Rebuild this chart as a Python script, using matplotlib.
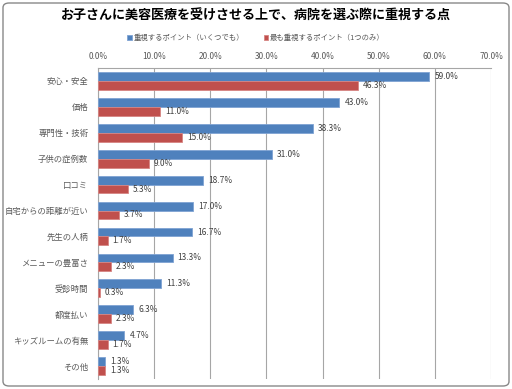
import matplotlib
matplotlib.use("Agg")
import matplotlib.pyplot as plt
import numpy as np
from matplotlib.patches import FancyBboxPatch

plt.rcParams['font.family'] = ['Noto Sans CJK JP', 'DejaVu Sans']

title = "お子さんに美容医療を受けさせる上で、病院を選ぶ際に重視する点"
categories = ["安心・安全", "価格", "専門性・技術", "子供の症例数", "口コミ",
              "自宅からの距離が近い", "先生の人柄", "メニューの豊富さ", "受診時間",
              "都度払い", "キッズルームの有無", "その他"]
series_names = ["重視するポイント（いくつでも）", "最も重視するポイント（1つのみ）"]
any_points = [59.0, 43.0, 38.3, 31.0, 18.7, 17.0, 16.7, 13.3, 11.3, 6.3, 4.7, 1.3]
top_point = [46.3, 11.0, 15.0, 9.0, 5.3, 3.7, 1.7, 2.3, 0.3, 2.3, 1.7, 1.3]
xticks = [0, 10, 20, 30, 40, 50, 60, 70]

blue = "#4F81BD"
red = "#C0504D"
gray = "#595959"

fig = plt.figure(figsize=(5.12, 3.89), dpi=100)
ax = fig.add_axes([98/512, 1-379/389, (491-98)/512, (379-68)/389])

y = np.arange(len(categories))
h = 0.34
ax.barh(y - h/2, any_points, height=h, color=blue, edgecolor="#7FA3D3", linewidth=0.6, label=series_names[0], zorder=3)
ax.barh(y + h/2, top_point, height=h, color=red, edgecolor="#D68583", linewidth=0.6, label=series_names[1], zorder=3)

for yi, v in zip(y, any_points):
    ax.text(v + 0.9, yi - h/2, f"{v:.1f}%", va="center", ha="left", fontsize=6, color="#404040", zorder=4)
for yi, v in zip(y, top_point):
    ax.text(v + 0.9, yi + h/2, f"{v:.1f}%", va="center", ha="left", fontsize=6, color="#404040", zorder=4)

ax.set_xlim(0, 70)
ax.set_ylim(len(categories) - 0.5, -0.5)
ax.set_xticks(xticks)
ax.set_xticklabels([f"{t:.1f}%" for t in xticks], fontsize=6, color=gray)
ax.xaxis.tick_top()
ax.tick_params(axis='x', length=0, pad=5)
ax.set_yticks(y)
ax.set_yticklabels(categories, fontsize=6, color=gray)
ax.tick_params(axis='y', length=0, pad=7)
ax.grid(axis='x', color="#A6A6A6", linewidth=0.8, zorder=0)
for s in ['bottom', 'right']:
    ax.spines[s].set_visible(False)
for s in ['top', 'left']:
    ax.spines[s].set_color("#A6A6A6")
    ax.spines[s].set_linewidth(0.8)

fig.text(0.5, 1-16/389, title, ha="center", va="center", fontsize=9.4, fontweight="bold", color="black")
leg = fig.legend(loc="center", bbox_to_anchor=(0.5, 1-38/389), ncol=2, frameon=False,
                 fontsize=5.3, handlelength=0.6, handleheight=0.6, handletextpad=0.3, columnspacing=2.6)
for t in leg.get_texts():
    t.set_color(gray)

border = FancyBboxPatch((3/512, 3/389), 506/512, 383/389, boxstyle="round,pad=0,rounding_size=0.012",
                        transform=fig.transFigure, fill=False, edgecolor="#888888", linewidth=1.0)
fig.patches.append(border)

fig.savefig("out.png", dpi=100)
